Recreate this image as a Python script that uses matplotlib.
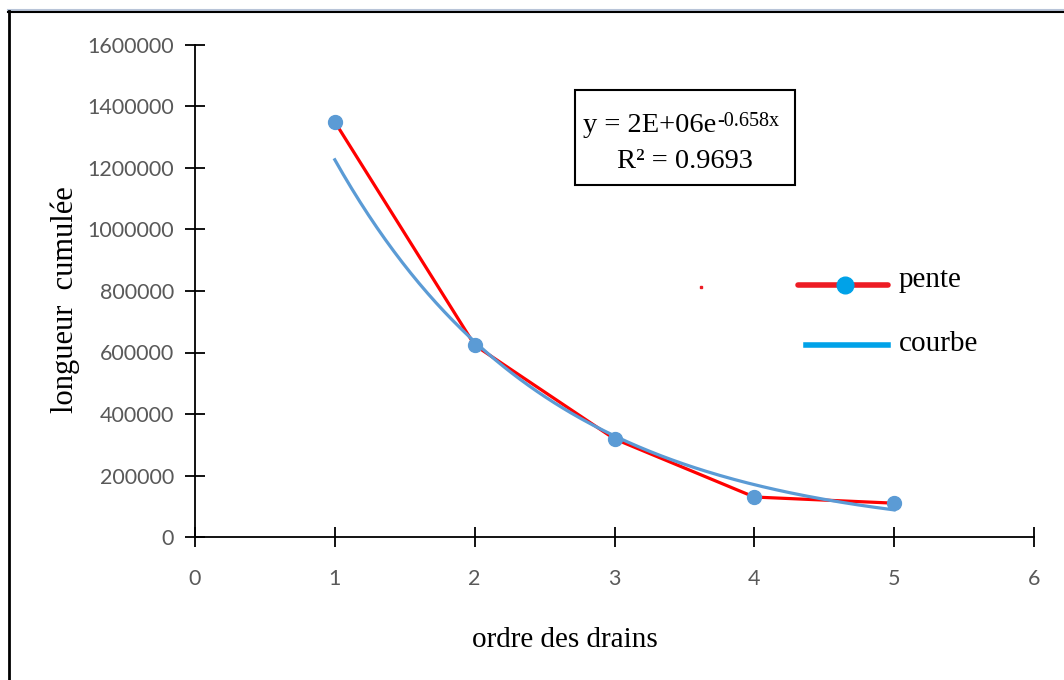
import numpy as np
import matplotlib.pyplot as plt
from matplotlib.lines import Line2D
from matplotlib.patches import Rectangle

# data
ordre = [1, 2, 3, 4, 5]
longueur = [1350000, 624000, 319000, 130000, 110000]
xticks = [0, 1, 2, 3, 4, 5, 6]
yticks = [0, 200000, 400000, 600000, 800000, 1000000, 1200000, 1400000, 1600000]

red = '#FF0000'
blue = '#5B9BD5'
serif = 'Liberation Serif'

fig = plt.figure(figsize=(10.64, 6.8), dpi=100)
ax = fig.add_axes([195 / 1064, 1 - 537 / 680, (1034 - 195) / 1064, (537 - 45) / 680])

# exponential trend fitted on the data (Excel style)
b, a = np.polyfit(ordre, np.log(longueur), 1)
xs = np.linspace(1, 5, 200)
ys = np.exp(a) * np.exp(b * xs)

ax.plot(ordre, longueur, color=red, lw=2.3, zorder=2)
ax.plot(xs, ys, color=blue, lw=2.3, zorder=3)
ax.plot(ordre, longueur, 'o', color=blue, ms=10, zorder=4)

ax.set_xlim(0, 6)
ax.set_ylim(0, 1600000)
ax.set_xticks(xticks)
ax.set_yticks(yticks)
ax.set_xticklabels([str(v) for v in xticks])
ax.set_yticklabels([str(v) for v in yticks])
for s in ['top', 'right']:
    ax.spines[s].set_visible(False)
for s in ['left', 'bottom']:
    ax.spines[s].set_linewidth(1.3)
ax.tick_params(axis='both', direction='inout', length=14, width=1.3,
               labelsize=15.5, labelcolor='#595959')
ax.tick_params(axis='x', pad=16)
ax.tick_params(axis='y', pad=8)
for lab in ax.get_xticklabels() + ax.get_yticklabels():
    lab.set_fontfamily('Lato')

# overlay axes in pixel coords for text, box and hand-made legend
ov = fig.add_axes([0, 0, 1, 1], facecolor='none')
ov.set_xlim(0, 1064)
ov.set_ylim(680, 0)
ov.axis('off')

ov.text(565, 640, 'ordre des drains', fontfamily=serif, fontsize=21, ha='center', va='center')
ov.text(65, 300, 'longueur  cumulée', fontfamily=serif, fontsize=22,
        rotation=90, ha='center', va='center')

# equation box
ov.add_patch(Rectangle((575, 90), 220, 95, fc='white', ec='black', lw=1.5, zorder=5))
t1 = ov.text(583, 125, 'y = 2E+06e', fontfamily=serif, fontsize=20.5,
             ha='left', va='center', zorder=6)
ov.annotate('-0.658x', xy=(1, 1), xycoords=t1, xytext=(0.5, 0), textcoords='offset points',
            fontfamily=serif, fontsize=14.5, ha='left', va='top', zorder=6)
ov.text(685, 161, 'R² = 0.9693', fontfamily=serif, fontsize=20.5,
        ha='center', va='center', zorder=6)

# legend
ov.plot([798, 888], [285, 285], color='#ED1C24', lw=4, solid_capstyle='round')
ov.plot([845], [285], 'o', color='#00A2E8', ms=12)
ov.plot([806, 888], [345, 345], color='#00A2E8', lw=4)
ov.plot([701], [287], 's', color='#ED1C24', ms=1.5)
ov.text(899, 280, 'pente', fontfamily=serif, fontsize=21, va='center')
ov.text(899, 344, 'courbe', fontfamily=serif, fontsize=21, va='center')

# outer frame (top and left only visible)
fig.add_artist(Line2D([8 / 1064, 1], [1 - 10 / 680, 1 - 10 / 680], color='#B8C4D8', lw=1.5))
fig.add_artist(Line2D([8 / 1064, 1], [1 - 12 / 680, 1 - 12 / 680], color='black', lw=1.5))
fig.add_artist(Line2D([8.5 / 1064, 8.5 / 1064], [0, 1 - 11 / 680], color='black', lw=2))

fig.savefig('out.png', dpi=100)
